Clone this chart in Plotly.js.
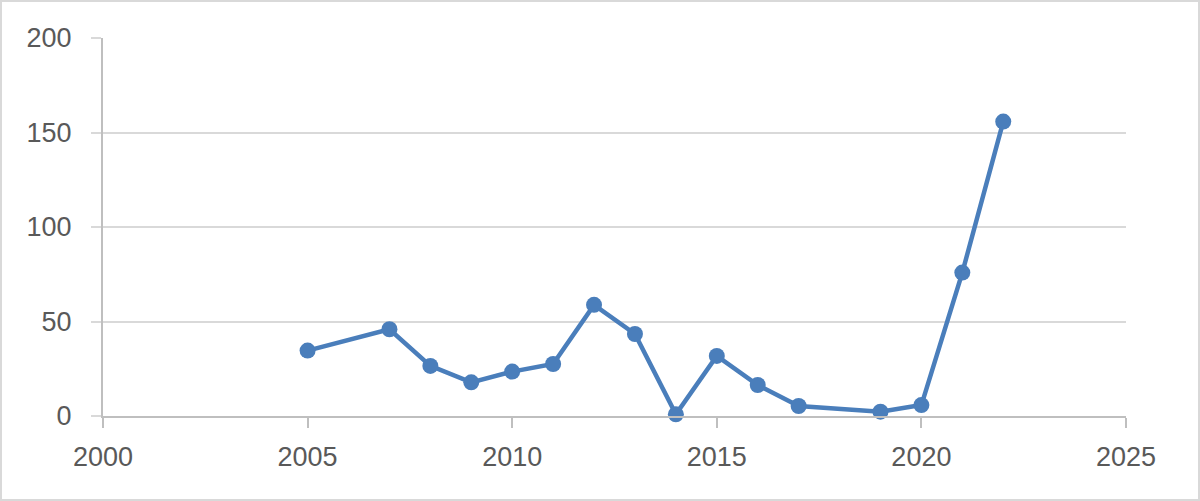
<!DOCTYPE html>
<html>
<head>
<meta charset="utf-8">
<script src="https://cdn.plot.ly/plotly-3.0.1.min.js"></script>
<style>
html,body{margin:0;padding:0;background:#fff;}
#chart{width:1196px;height:497px;border:2px solid #d9d9d9;}
</style>
</head>
<body>
<div id="chart"></div>
<script>
const years = [2005, 2007, 2008, 2009, 2010, 2011, 2012, 2013, 2014, 2015, 2016, 2017, 2019, 2020, 2021, 2022];
const values = [34.6, 45.9, 26.5, 17.8, 23.5, 27.5, 58.8, 43.4, 0.9, 31.8, 16.4, 5.3, 2.3, 5.8, 75.9, 155.8];
const xTicks = [2000, 2005, 2010, 2015, 2020, 2025];
const yTicks = [0, 50, 100, 150, 200];

const trace = {
  x: years,
  y: values,
  type: 'scatter',
  mode: 'lines+markers',
  line: {color: '#4a7ebb', width: 4.5},
  marker: {color: '#4a7ebb', size: 16},
  cliponaxis: false,
  hoverinfo: 'x+y'
};

const font = {family: 'Liberation Sans, Arial, sans-serif', size: 27, color: '#595959'};

const layout = {
  width: 1196,
  height: 497,
  margin: {l: 101, r: 72, t: 36, b: 83},
  paper_bgcolor: '#ffffff',
  plot_bgcolor: '#ffffff',
  showlegend: false,
  font: font,
  xaxis: {
    range: [2000, 2025],
    tickvals: xTicks,
    ticktext: xTicks.map(String),
    showgrid: false,
    zeroline: false,
    showline: true,
    linecolor: '#bfbfbf',
    linewidth: 2,
    ticks: 'outside',
    ticklen: 10,
    tickwidth: 2,
    tickcolor: '#bfbfbf',
    ticklabelstandoff: 6,
    tickfont: font,
    fixedrange: true
  },
  yaxis: {
    range: [0, 200],
    tickvals: yTicks,
    ticktext: yTicks.map(String),
    showgrid: true,
    gridcolor: '#d9d9d9',
    gridwidth: 2,
    zeroline: false,
    showline: true,
    linecolor: '#bfbfbf',
    linewidth: 2,
    ticks: 'outside',
    ticklen: 10,
    tickwidth: 2,
    tickcolor: '#d9d9d9',
    ticklabelstandoff: 14,
    tickfont: font,
    fixedrange: true
  }
};

Plotly.newPlot('chart', [trace], layout, {displayModeBar: false, staticPlot: true});
</script>
</body>
</html>
